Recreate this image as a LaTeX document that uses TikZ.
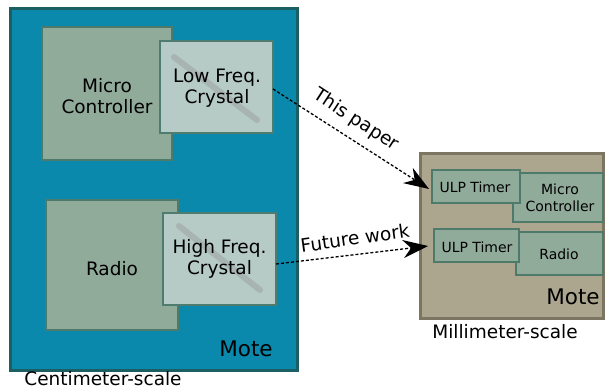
\documentclass[tikz,border=0pt]{standalone}
\usepackage{fontspec}
\setmainfont{DejaVu Sans}
\usetikzlibrary{arrows.meta}
\definecolor{moteblue}{HTML}{0A89AC}
\definecolor{moteedge}{HTML}{1C5F62}
\definecolor{chipfill}{HTML}{91AB9B}
\definecolor{chipedge}{HTML}{4D7A6A}
\definecolor{xtalfill}{HTML}{B6CAC6}
\definecolor{xtaledge}{HTML}{4F7C70}
\definecolor{smallfill}{HTML}{ACA68F}
\definecolor{smalledge}{HTML}{7B7562}
\tikzset{
  px/.style={x=1pt,y=-1pt},
  bigmote/.style={draw=moteedge,fill=moteblue,line width=3pt},
  chip/.style={draw=chipedge,fill=chipfill,line width=2pt},
  xtal/.style={draw=xtaledge,fill=xtalfill,line width=2pt},
  smallmote/.style={draw=smalledge,fill=smallfill,line width=3pt},
  smallchip/.style={draw=chipedge,fill=chipfill,line width=1.6pt},
  rod/.style={draw=black!45,opacity=0.35,line width=6pt,line cap=round},
  lbl/.style={font=\fontsize{18.5}{21}\selectfont,align=center,inner sep=0pt},
  slbl/.style={font=\fontsize{14}{16.5}\selectfont,align=center,inner sep=0pt},
  motelbl/.style={font=\fontsize{21.5}{24}\selectfont,inner sep=0pt},
  link/.style={dash pattern=on 3pt off 2pt,line width=1.3pt,
    -{Stealth[length=25pt,width=18pt,inset=8pt]}}
}
\begin{document}
\begin{tikzpicture}[px]
\useasboundingbox (0,0) rectangle (605,390);
% centimetre-scale mote
\draw[bigmote] (10,9) rectangle (297,370);
\draw[chip] (42,27) rectangle (172,160);
\draw[xtal] (160,41) rectangle (273,133);
\draw[rod] (174,57) -- (257,120);
\draw[chip] (46,200) rectangle (178,330);
\draw[xtal] (163,213) rectangle (276,305);
\draw[rod] (179,226) -- (260,290);
\node[lbl] (mc) at (107,96) {Micro\\Controller};
\node[lbl] (lfx) at (217,88) {Low Freq.\\Crystal};
\node[lbl] (radio) at (112,269) {Radio};
\node[lbl] (hfx) at (219.5,259) {High Freq.\\Crystal};
\node[motelbl] (motebig) at (246,349) {Mote};
\node[lbl] (cm) at (103,379) {Centimeter-scale};
\coordinate (lfxout) at (273,89);
\coordinate (hfxout) at (276,264);
% millimetre-scale mote
\draw[smallmote] (420,154) rectangle (603,318);
\draw[smallchip] (513,173) rectangle (603,222);
\draw[smallchip] (432,170) rectangle (520,203);
\draw[smallchip] (516,232) rectangle (603,275);
\draw[smallchip] (434,229) rectangle (519,262);
\node[slbl] (ulp1) at (475,187) {ULP Timer};
\node[slbl] (smc) at (560,198) {Micro\\Controller};
\node[slbl] (ulp2) at (477,247) {ULP Timer};
\node[slbl] (sradio) at (559,254) {Radio};
\node[motelbl] (motesmall) at (573,297) {Mote};
\node[lbl] (mm) at (505,332) {Millimeter-scale};
\coordinate (ulp1in) at (429,189);
\coordinate (ulp2in) at (428,246);
% links
\draw[link] (lfxout) -- (ulp1in);
\draw[link] (hfxout) -- (ulp2in);
\node[lbl,rotate=-33] (thispaper) at (356,120) {This paper};
\node[lbl,rotate=8] (future) at (355,238) {Future work};
\end{tikzpicture}
\end{document}
